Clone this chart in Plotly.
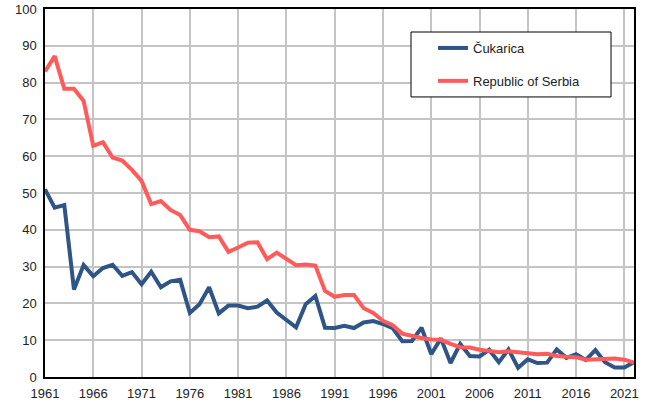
import plotly.graph_objects as go

years = list(range(1961, 2023))

cukarica = [51.0, 46.0, 46.7, 23.8, 30.4, 27.4, 29.6, 30.5, 27.5, 28.5,
            25.2, 28.6, 24.4, 26.0, 26.4, 17.4, 19.8, 24.4, 17.3, 19.4,
            19.4, 18.7, 19.1, 20.8, 17.5, 15.5, 13.5, 19.8, 22.0, 13.4,
            13.3, 13.9, 13.3, 14.8, 15.2, 14.4, 13.3, 9.7, 9.8, 13.4,
            6.2, 10.5, 3.8, 9.0, 5.7, 5.6, 7.4, 4.0, 7.5, 2.5,
            4.8, 3.8, 3.9, 7.5, 5.2, 6.2, 4.6, 7.3, 4.0, 2.6,
            2.6, 4.0]

serbia = [83.0, 87.2, 78.3, 78.3, 75.0, 62.8, 63.8, 59.6, 58.8, 56.3,
          53.3, 47.0, 47.8, 45.4, 44.0, 40.0, 39.6, 38.0, 38.2, 34.0,
          35.2, 36.5, 36.6, 32.0, 33.8, 32.0, 30.4, 30.6, 30.3, 23.4,
          21.8, 22.3, 22.3, 18.7, 17.4, 15.3, 14.1, 11.8, 11.1, 10.6,
          10.2, 10.1, 9.0, 8.1, 8.0, 7.4, 7.1, 6.7, 7.0, 6.7,
          6.3, 6.2, 6.3, 5.7, 5.5, 5.4, 4.7, 4.8, 4.8, 5.0,
          4.7, 3.9]

x_ticks = list(range(1961, 2022, 5))
y_ticks = list(range(0, 101, 10))

fig = go.Figure()
fig.add_trace(go.Scatter(x=years, y=cukarica, mode="lines", name="Čukarica",
                         line=dict(color="#2f5587", width=4), legendgroup="a"))
fig.add_trace(go.Scatter(x=years, y=serbia, mode="lines", name="Republic of Serbia",
                         line=dict(color="#ff5b5b", width=4), legendgroup="b"))

axis_common = dict(showline=True, linecolor="black", linewidth=1.5, mirror=True,
                   showgrid=True, gridcolor="#c4c4c4", gridwidth=1.5,
                   zeroline=False, ticks="", automargin=False,
                   tickfont=dict(size=13, color="#222222"))

fig.update_xaxes(range=[1961, 2022], tickvals=x_ticks, ticktext=[str(t) for t in x_ticks],
                 ticklabelstandoff=4, **axis_common)
fig.update_yaxes(range=[0, 100], tickvals=y_ticks, ticklabelstandoff=4, **axis_common)

# legend frame
fig.add_shape(type="rect", xref="paper", yref="paper",
              x0=0.6214, x1=0.961, y0=0.761, y1=0.9375,
              line=dict(color="black", width=1), fillcolor="white", layer="above")

fig.update_layout(
    width=645, height=407,
    margin=dict(l=45, r=11, t=9, b=30),
    paper_bgcolor="white", plot_bgcolor="white",
    font=dict(family="Liberation Sans, Arial, sans-serif", size=13, color="#222222"),
    legend=dict(x=(433 - 45) / 589, y=(377 - 33) / 368, xanchor="left", yanchor="top",
                bgcolor="rgba(0,0,0,0)", borderwidth=0,
                tracegroupgap=13, itemwidth=30, font=dict(size=13)),
)

fig.write_html("out.html", post_script="document.body.style.margin='0';",
               config={"displayModeBar": False})
